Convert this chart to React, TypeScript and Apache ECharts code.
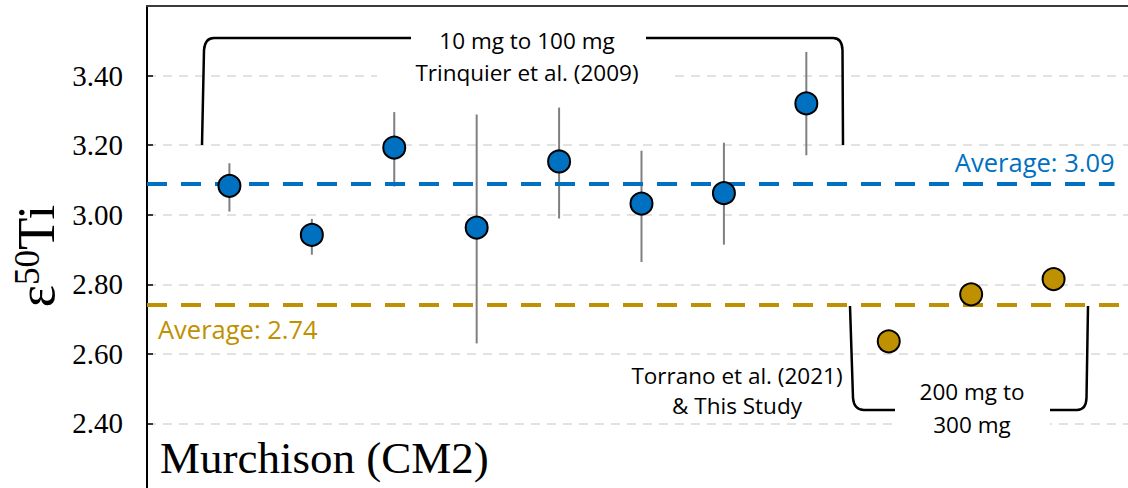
import React, { useEffect, useRef } from "react";
import * as echarts from "echarts";

// Murchison (CM2) ε50Ti measurements
const trinquierX = [1, 2, 3, 4, 5, 6, 7, 8];
const trinquierValues = [3.083, 2.942, 3.193, 2.963, 3.153, 3.032, 3.062, 3.32];
const trinquierLow = [3.009, 2.885, 3.081, 2.63, 2.989, 2.864, 2.914, 3.171];
const trinquierHigh = [3.148, 2.988, 3.295, 3.288, 3.308, 3.184, 3.207, 3.468];

const studyX = [9, 10, 11];
const studyValues = [2.636, 2.771, 2.815];

const trinquierAverage = 3.09;
const studyAverage = 2.74;

const yMin = 2.2;
const yMax = 3.6;
const yStep = 0.2;

const BLUE = "#0070C0";
const GOLD = "#BF9000";
const SANS = "'Open Sans', 'Noto Sans', sans-serif";
const SERIF = "'Liberation Serif', 'DejaVu Serif', serif";

// the plot frame runs a little past the visible page on the right and bottom
const CHART_W = 1140;
const CHART_H = 493;

// bracket outlines (pixel space)
const BRACKETS: Record<string, string> = {
  bracketTopLeft: "M202,145 L204,50 Q205,38 214,38 L411,38",
  bracketTopRight: "M646,38 L833,38 Q842,38 842.5,50 L843,145",
  bracketBottomLeft: "M850,306 L853,398 Q854,410 864,410 L895,410",
  bracketBottomRight: "M1050,410 L1077,410 Q1086,410 1086.5,398 L1088,306",
};

let shapesRegistered = false;
function registerBrackets() {
  if (shapesRegistered) return;
  Object.keys(BRACKETS).forEach((name) => {
    const d = BRACKETS[name];
    echarts.graphic.registerShape(name, (echarts.graphic as any).extendPath(d, {}));
  });
  shapesRegistered = true;
}

export default function App() {
  const ref = useRef<HTMLDivElement>(null);

  useEffect(() => {
    document.body.style.margin = "0";
    document.body.style.overflow = "hidden";
    registerBrackets();
    const chart = echarts.init(ref.current!, undefined, { renderer: "svg" });

    const errorData = trinquierX.map((x, i) => [x, trinquierLow[i], trinquierHigh[i]]);

    const bracketGraphics = Object.keys(BRACKETS).map((name) => ({
      type: name,
      x: 0,
      y: 0,
      z: 30,
      silent: true,
      style: { fill: null, stroke: "#000", lineWidth: 2.5 },
    }));

    chart.setOption({
      animation: false,
      backgroundColor: "#fff",
      grid: {
        left: 147,
        right: 4,
        top: 6,
        bottom: 0,
        show: false,
      },
      xAxis: {
        type: "value",
        min: 0,
        max: 12,
        show: false,
      },
      yAxis: {
        type: "value",
        min: yMin,
        max: yMax,
        interval: yStep,
        axisLine: { show: true, lineStyle: { color: "#000", width: 2 } },
        axisTick: { show: true, inside: true, length: 6, lineStyle: { color: "#000", width: 1.5 } },
        axisLabel: {
          fontFamily: SERIF,
          fontSize: 29,
          color: "#000",
          margin: 24,
          formatter: (v: number) => (v < yMin + 0.1 || v > yMax - 0.1 ? "" : v.toFixed(2)),
        },
        splitLine: {
          show: true,
          lineStyle: { color: "#d9d9d9", width: 1.5, type: [9, 7] },
        },
      },
      series: [
        {
          type: "custom",
          name: "error",
          z: 3,
          renderItem: (params: any, api: any) => {
            const x = api.value(0);
            const lo = api.coord([x, api.value(1)]);
            const hi = api.coord([x, api.value(2)]);
            return {
              type: "line",
              shape: { x1: lo[0], y1: lo[1], x2: hi[0], y2: hi[1] },
              style: { stroke: "#7f7f7f", lineWidth: 2 },
            };
          },
          data: errorData,
        },
        {
          type: "scatter",
          name: "Trinquier et al. (2009)",
          z: 5,
          symbolSize: 22,
          itemStyle: { color: BLUE, borderColor: "#000", borderWidth: 2, opacity: 1 },
          data: trinquierX.map((x, i) => [x, trinquierValues[i]]),
          markLine: {
            silent: true,
            symbol: ["none", "none"],
            lineStyle: { color: BLUE, width: 4, type: [20, 14] },
            label: {
              show: true,
              position: "insideEndTop",
              distance: [0, 8],
              formatter: () => `Average: ${trinquierAverage.toFixed(2)}`,
              color: BLUE,
              fontFamily: SANS,
              fontSize: 25.5,
            },
            data: [[{ coord: [0, trinquierAverage] }, { coord: [11.74, trinquierAverage] }]],
          },
        },
        {
          type: "scatter",
          name: "Torrano et al. (2021) & This Study",
          z: 5,
          symbolSize: 22,
          itemStyle: { color: GOLD, borderColor: "#000", borderWidth: 2, opacity: 1 },
          data: studyX.map((x, i) => [x, studyValues[i]]),
          markLine: {
            silent: true,
            symbol: ["none", "none"],
            lineStyle: { color: GOLD, width: 4, type: [20, 14] },
            label: {
              show: true,
              position: "insideStartBottom",
              distance: [11, 11],
              formatter: () => `Average: ${studyAverage.toFixed(2)}`,
              color: GOLD,
              fontFamily: SANS,
              fontSize: 25.5,
            },
            data: [[{ coord: [0, studyAverage] }, { coord: [12, studyAverage] }]],
          },
        },
      ],
      graphic: [
        // top edge of the plot frame
        {
          type: "line",
          z: 40,
          silent: true,
          shape: { x1: 146, y1: 6, x2: CHART_W, y2: 6 },
          style: { stroke: "#3a3a3a", lineWidth: 2 },
        },
        { type: "rect", z: 20, silent: true, shape: { x: 377, y: 22, width: 295, height: 68 }, style: { fill: "#fff" } },
        { type: "rect", z: 20, silent: true, shape: { x: 895, y: 376, width: 155, height: 62 }, style: { fill: "#fff" } },
        ...bracketGraphics,
        {
          type: "text",
          z: 31,
          x: 36,
          y: 256,
          rotation: Math.PI / 2,
          style: {
            text: "{a|ε}{b|50}{a|Ti}",
            align: "center",
            verticalAlign: "middle",
            rich: {
              a: { fontFamily: SERIF, fontSize: 53, fill: "#000", verticalAlign: "bottom" },
              b: { fontFamily: SERIF, fontSize: 35, fill: "#000", verticalAlign: "top" },
            },
          },
        },
        {
          type: "text",
          z: 31,
          x: 527,
          y: 56,
          style: {
            text: "10 mg to 100 mg\nTrinquier et al. (2009)",
            fill: "#000",
            font: `22.5px ${SANS}`,
            align: "center",
            verticalAlign: "middle",
            lineHeight: 32,
          },
        },
        {
          type: "text",
          z: 31,
          x: 737,
          y: 390,
          style: {
            text: "Torrano et al. (2021)\n& This Study",
            fill: "#000",
            font: `22.5px ${SANS}`,
            align: "center",
            verticalAlign: "middle",
            lineHeight: 30,
          },
        },
        {
          type: "text",
          z: 31,
          x: 972,
          y: 408,
          style: {
            text: "200 mg to\n300 mg",
            fill: "#000",
            font: `22.5px ${SANS}`,
            align: "center",
            verticalAlign: "middle",
            lineHeight: 33,
          },
        },
        {
          type: "text",
          z: 31,
          x: 160,
          y: 458,
          style: {
            text: "Murchison (CM2)",
            fill: "#000",
            font: `45px ${SERIF}`,
            align: "left",
            verticalAlign: "middle",
          },
        },
      ],
    });

    return () => chart.dispose();
  }, []);

  return <div ref={ref} style={{ width: CHART_W, height: CHART_H }} />;
}
